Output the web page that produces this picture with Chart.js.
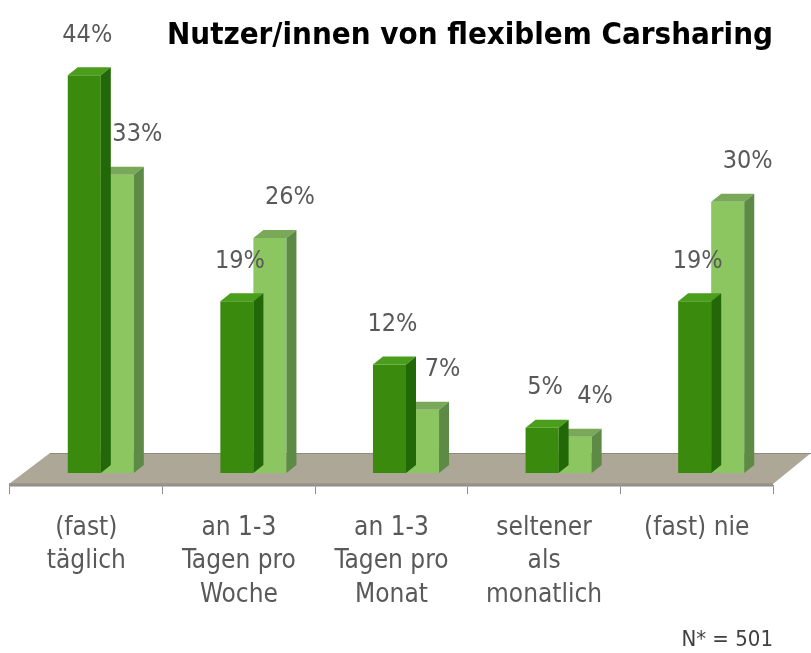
<!DOCTYPE html>
<html>
<head>
<meta charset="utf-8">
<script src="https://cdn.jsdelivr.net/npm/chart.js@4/dist/chart.umd.min.js"></script>
<style>
  html, body { margin: 0; padding: 0; background: #fff; }
  #wrap { width: 811px; height: 653px; }
</style>
</head>
<body>
<div id="wrap"><canvas id="chart"></canvas></div>
<script>
const categories = [
    ["(fast)", "täglich"],
    ["an 1-3", "Tagen pro", "Woche"],
    ["an 1-3", "Tagen pro", "Monat"],
    ["seltener", "als", "monatlich"],
    ["(fast) nie"]
];
const seriesA = [44, 19, 12, 5, 19];   // dunkelgrün
const seriesB = [33, 26, 7, 4, 30];    // hellgrün
const titleText = "Nutzer/innen von flexiblem Carsharing";
const noteText = "N* = 501";

const FONT = "'Liberation Sans Narrow', 'DejaVu Sans Condensed', sans-serif";

// perspective shift of the bars against the front axis
const SHIFT_X = 14.5, SHIFT_Y = 13;
// depth of each column
const DEPTH_X = 10, DEPTH_Y = 8;

const faceColors = [
    { top: "#4a9e1c", side: "#236808" },
    { top: "#79a858", side: "#5d8a45" }
];

function poly(ctx, pts, color) {
    ctx.beginPath();
    ctx.moveTo(pts[0][0], pts[0][1]);
    for (let i = 1; i < pts.length; i++) ctx.lineTo(pts[i][0], pts[i][1]);
    ctx.closePath();
    ctx.fillStyle = color;
    ctx.fill();
}

const floorAnd3d = {
    id: "floorAnd3d",
    beforeDraw(chart) {
        const { ctx, chartArea: a } = chart;
        const front = a.bottom - 2, back = a.bottom - 33;
        ctx.save();
        poly(ctx, [[a.left - 1, front], [a.right, front], [a.right + 38, back], [a.left + 40, back]], "#aca797");
        ctx.strokeStyle = "#8e8a7e";
        ctx.lineWidth = 1;
        ctx.beginPath();
        ctx.moveTo(a.left + 40, back + 0.5);
        ctx.lineTo(a.right + 38, back + 0.5);
        ctx.stroke();
        ctx.fillStyle = "#9a968a";
        ctx.fillRect(a.left - 1, front - 1, a.right - a.left + 1, 3);
        ctx.restore();
    },
    beforeDatasetsDraw(chart) {
        chart.ctx.save();
        chart.ctx.translate(SHIFT_X, -SHIFT_Y);
    },
    afterDatasetDraw(chart, args) {
        const ctx = chart.ctx;
        const c = faceColors[args.index];
        args.meta.data.forEach(bar => {
            const { x, y, base, width } = bar.getProps(["x", "y", "base", "width"], true);
            const l = x - width / 2, r = x + width / 2;
            poly(ctx, [[l, y], [l + DEPTH_X, y - DEPTH_Y], [r + DEPTH_X, y - DEPTH_Y], [r, y]], c.top);
            poly(ctx, [[r, y], [r + DEPTH_X, y - DEPTH_Y], [r + DEPTH_X, base - DEPTH_Y], [r, base]], c.side);
        });
    },
    afterDatasetsDraw(chart) {
        const ctx = chart.ctx;
        ctx.font = "25px " + FONT;
        ctx.fillStyle = "#595959";
        ctx.textAlign = "center";
        ctx.textBaseline = "middle";
        chart.data.datasets.forEach((ds, di) => {
            chart.getDatasetMeta(di).data.forEach((bar, i) => {
                const nudge = di === 0 ? 3 : 20;
                ctx.fillText(ds.data[i] + "%", bar.x + nudge, bar.y - DEPTH_Y - 32);
            });
        });
        ctx.restore();
    }
};

new Chart(document.getElementById("chart"), {
    type: "bar",
    data: {
        labels: categories,
        datasets: [
            { label: "A", data: seriesA, backgroundColor: "#3a8a0e", clip: false },
            { label: "B", data: seriesB, backgroundColor: "#8cc660", clip: false }
        ]
    },
    options: {
        responsive: true,
        maintainAspectRatio: false,
        animation: false,
        layout: { padding: { left: 10, right: 38, top: 0, bottom: 1.6 } },
        datasets: { bar: { categoryPercentage: 0.433, barPercentage: 1.0 } },
        scales: {
            x: {
                grid: { display: true, offset: true, drawOnChartArea: false, drawTicks: true, tickLength: 8, color: "#8c8c8c" },
                border: { display: true, color: "#8c8c8c", width: 1.5 },
                ticks: {
                    autoSkip: false, maxRotation: 0, padding: 17,
                    color: "#595959",
                    font: { family: FONT, size: 26, lineHeight: 1.3 }
                }
            },
            y: { display: false, min: 0, max: 46 }
        },
        plugins: {
            legend: { display: false },
            tooltip: { enabled: false },
            title: {
                display: true, text: titleText, align: "end", color: "#000",
                font: { family: FONT, size: 31, weight: "bold", lineHeight: 1.2 },
                padding: { top: 17, bottom: 16 }
            },
            subtitle: {
                display: true, text: noteText, position: "bottom", align: "end", color: "#404040",
                font: { family: FONT, size: 22, lineHeight: 1.0 },
                padding: { top: 0, bottom: 0 }
            }
        }
    },
    plugins: [floorAnd3d]
});
</script>
</body>
</html>
